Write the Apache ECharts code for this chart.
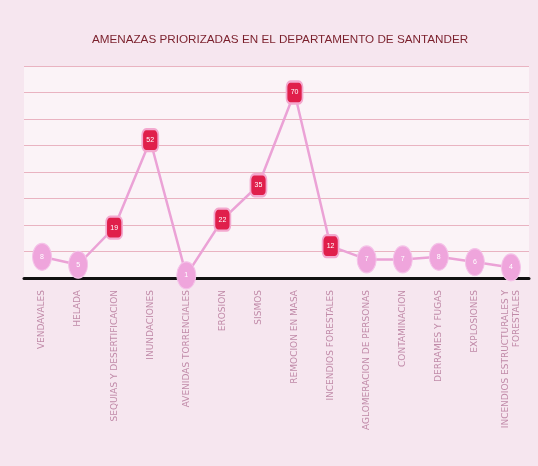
<!DOCTYPE html>
<html>
<head>
<meta charset="utf-8">
<script src="https://cdn.jsdelivr.net/npm/echarts@6/dist/echarts.min.js"></script>
<style>
  html, body { margin: 0; padding: 0; background: #f6e6ef; }
  #chart { width: 538px; height: 466px; }
</style>
</head>
<body>
<div id="chart"></div>
<script>
// amenazas (categorias del eje x)
var amenazas = [
  "VENDAVALES", "HELADA", "SEQUIAS Y DESERTIFICACION", "INUNDACIONES",
  "AVENIDAS TORRENCIALES", "EROSION", "SISMOS", "REMOCION EN MASA",
  "INCENDIOS FORESTALES", "AGLOMERACION DE PERSONAS", "CONTAMINACION",
  "DERRAMES Y FUGAS", "EXPLOSIONES", "INCENDIOS ESTRUCTURALES Y\nFORESTALES"
];
// numero de municipios por amenaza
var valores = [8, 5, 19, 52, 1, 22, 35, 70, 12, 7, 7, 8, 6, 4];

var chart = echarts.init(document.getElementById("chart"));

// los valores altos van en cuadro rojo, los bajos en ovalo rosado
var puntos = valores.map(function (v) {
  if (v >= 10) {
    return {
      value: v,
      symbol: "roundRect",
      symbolSize: [16, 22],
      itemStyle: { color: "#e01f4b", borderColor: "#f3a9cf", borderWidth: 2 }
    };
  }
  return {
    value: v,
    symbol: "circle",
    symbolSize: [19, 27],
    itemStyle: { color: "#efa5dc", borderColor: "#f4c2e8", borderWidth: 1 }
  };
});

var option = {
  backgroundColor: "#f6e6ef",
  title: {
    text: "AMENAZAS PRIORIZADAS EN EL DEPARTAMENTO DE SANTANDER",
    left: 275,
    top: 29,
    textAlign: "center",
    textStyle: {
      color: "#7a1f2b",
      fontFamily: "Liberation Sans, sans-serif",
      fontWeight: "normal",
      fontSize: 11.7
    }
  },
  grid: {
    left: 24,
    right: 9,
    top: 66,
    bottom: 188,
    show: true,
    backgroundColor: "#fbf3f7",
    borderWidth: 0
  },
  xAxis: {
    type: "category",
    data: amenazas,
    boundaryGap: true,
    axisLine: { show: true, lineStyle: { color: "#111111", width: 3 } },
    axisTick: { show: false },
    axisLabel: {
      interval: 0,
      rotate: 90,
      color: "#c08aa8",
      fontSize: 9,
      fontFamily: "DejaVu Sans, sans-serif",
      margin: 12,
      lineHeight: 11
    }
  },
  yAxis: {
    type: "value",
    min: 0,
    max: 80,
    interval: 10,
    axisLine: { show: false },
    axisTick: { show: false },
    axisLabel: { show: false },
    splitLine: { lineStyle: { color: "#e9b3c1", width: 1 } }
  },
  series: [
    {
      type: "line",
      data: puntos,
      z: 3,
      lineStyle: { color: "#eba2d6", width: 2.5 },
      label: {
        show: true,
        position: "inside",
        color: "#ffffff",
        fontSize: 7
      }
    }
  ]
};

chart.setOption(option);
</script>
</body>
</html>
